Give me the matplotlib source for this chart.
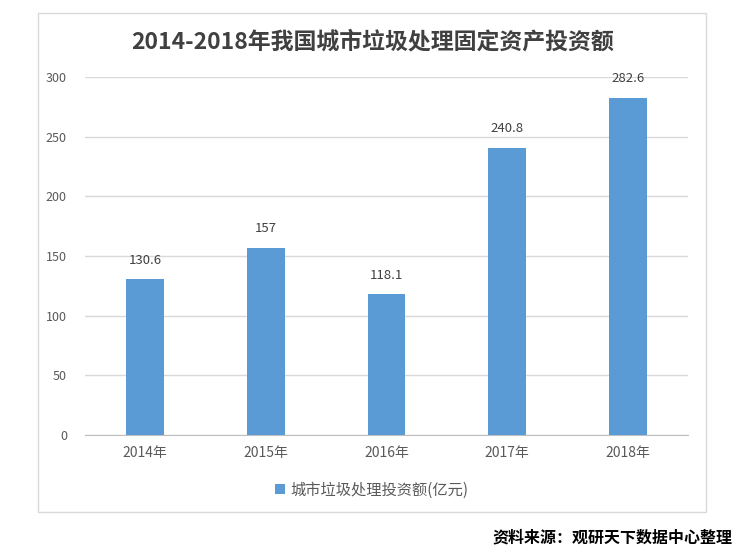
import matplotlib
matplotlib.use("Agg")
import matplotlib.pyplot as plt
from matplotlib.patches import Rectangle

plt.rcParams['font.family'] = ['Noto Sans CJK SC', 'DejaVu Sans']

categories = ['2014年', '2015年', '2016年', '2017年', '2018年']
values = [130.6, 157, 118.1, 240.8, 282.6]
value_labels = ['130.6', '157', '118.1', '240.8', '282.6']
yticks = [0, 50, 100, 150, 200, 250, 300]
title = '2014-2018年我国城市垃圾处理固定资产投资额'
series_name = '城市垃圾处理投资额(亿元)'
source = '资料来源：观研天下数据中心整理'

W, H = 750, 555
fig = plt.figure(figsize=(W / 100, H / 100), dpi=100)
fig.patch.set_facecolor('white')

# outer border
fig.patches.append(Rectangle((38 / W, 1 - 512 / H), (706 - 38) / W, (512 - 13) / H,
                             transform=fig.transFigure, fill=False,
                             edgecolor='#d9d9d9', linewidth=1))

ax = fig.add_axes([85 / W, 1 - 435 / H, (688 - 85) / W, (435 - 77) / H])
x = list(range(len(categories)))
bars = ax.bar(x, values, width=0.315, color='#5b9bd5', label=series_name, zorder=3)
ax.set_xlim(-0.5, len(categories) - 0.5)
ax.set_ylim(0, 300)
ax.set_yticks(yticks)
ax.set_xticks(x)
ax.set_xticklabels(categories)
ax.yaxis.grid(True, color='#d9d9d9', linewidth=1, zorder=0)
for s in ['top', 'right', 'left']:
    ax.spines[s].set_visible(False)
ax.spines['bottom'].set_color('#bfbfbf')
ax.tick_params(axis='both', length=0, colors='#595959')
ax.tick_params(axis='x', pad=8, labelsize=10)
ax.tick_params(axis='y', pad=13, labelsize=9)

for xi, v, lab in zip(x, values, value_labels):
    ax.annotate(lab, (xi, v), xytext=(0, 9), textcoords='offset points',
                ha='center', va='bottom', fontsize=9.5, color='#404040')

fig.text(373 / W, 1 - 42 / H, title, ha='center', va='center',
         fontsize=16.5, fontweight='bold', color='#404040')

leg = fig.legend(handles=[bars], labels=[series_name], loc='center',
                 bbox_to_anchor=(372 / W, 1 - 490 / H), frameon=False,
                 fontsize=11, handlelength=0.6, handleheight=0.6, handletextpad=0.4)
for t in leg.get_texts():
    t.set_color('#595959')

fig.text(732 / W, 1 - 537 / H, source, ha='right', va='center',
         fontsize=11.5, fontweight='bold', color='black')

fig.savefig('out.png', dpi=100, facecolor='white')
